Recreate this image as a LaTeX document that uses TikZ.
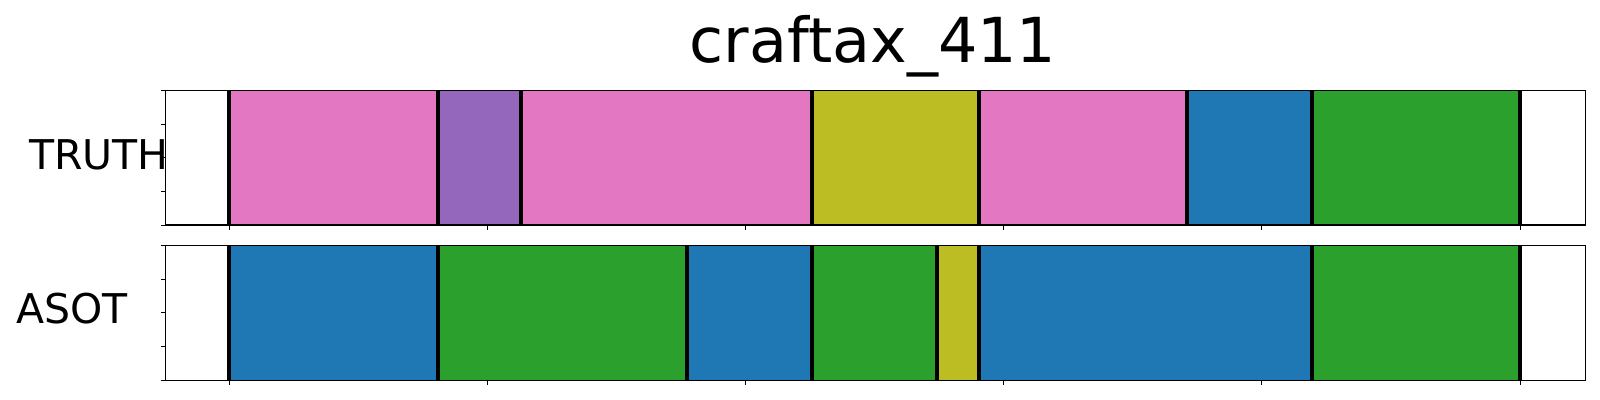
\documentclass[tikz,border=0pt]{standalone}
\usepackage{fontspec}
\setmainfont{DejaVu Sans}
\usepackage{tikz}

\definecolor{tabpink}{HTML}{E377C2}
\definecolor{tabpurple}{HTML}{9467BD}
\definecolor{tabolive}{HTML}{BCBD22}
\definecolor{tabblue}{HTML}{1F77B4}
\definecolor{tabgreen}{HTML}{2CA02C}

\begin{document}
\begin{tikzpicture}[x=0.75pt,y=0.75pt,yscale=-1,xscale=1]
\useasboundingbox (0,0) rectangle (1600,400);
\tikzset{segline/.style={line width=3pt,black}, frame/.style={line width=0.8pt,black}, tick/.style={line width=0.6pt,black}}

% Title
\draw (873,62) node [anchor=base][inner sep=0pt] (title) {\fontsize{46.5}{50}\selectfont craftax\_411};
% Text Node
\draw (29,169) node [anchor=base west][inner sep=0pt] (truthlbl) {\fontsize{30.75}{34}\selectfont TRUTH};
% Text Node
\draw (16,323) node [anchor=base west][inner sep=0pt] (asotlbl) {\fontsize{30.75}{34}\selectfont ASOT};

% TRUTH segments
\fill [tabpink] (229,90.3) rectangle (437.7,225);
\fill [tabpurple] (437.7,90.3) rectangle (520.7,225);
\fill [tabpink] (520.7,90.3) rectangle (812,225);
\fill [tabolive] (812,90.3) rectangle (979,225);
\fill [tabpink] (979,90.3) rectangle (1187,225);
\fill [tabblue] (1187,90.3) rectangle (1312,225);
\fill [tabgreen] (1312,90.3) rectangle (1520,225);

% ASOT segments
\fill [tabblue] (229,245.3) rectangle (437.7,380.3);
\fill [tabgreen] (437.7,245.3) rectangle (686.7,380.3);
\fill [tabblue] (686.7,245.3) rectangle (812,380.3);
\fill [tabgreen] (812,245.3) rectangle (937,380.3);
\fill [tabolive] (937,245.3) rectangle (979,380.3);
\fill [tabblue] (979,245.3) rectangle (1312,380.3);
\fill [tabgreen] (1312,245.3) rectangle (1520,380.3);

% Boundaries TRUTH
\draw [segline] (229,90.3) -- (229,225) ;
\draw [segline] (437.7,90.3) -- (437.7,225) ;
\draw [segline] (520.7,90.3) -- (520.7,225) ;
\draw [segline] (812,90.3) -- (812,225) ;
\draw [segline] (979,90.3) -- (979,225) ;
\draw [segline] (1187,90.3) -- (1187,225) ;
\draw [segline] (1312,90.3) -- (1312,225) ;
\draw [segline] (1520,90.3) -- (1520,225) ;

% Boundaries ASOT
\draw [segline] (229,245.3) -- (229,380.3) ;
\draw [segline] (437.7,245.3) -- (437.7,380.3) ;
\draw [segline] (686.7,245.3) -- (686.7,380.3) ;
\draw [segline] (812,245.3) -- (812,380.3) ;
\draw [segline] (937,245.3) -- (937,380.3) ;
\draw [segline] (979,245.3) -- (979,380.3) ;
\draw [segline] (1312,245.3) -- (1312,380.3) ;
\draw [segline] (1520,245.3) -- (1520,380.3) ;

% Frames
\draw [frame] (165.7,90.3) rectangle (1585.7,225) ;
\draw [frame] (165.7,245.3) rectangle (1585.7,380.3) ;

% Left ticks
\draw [tick] (160.8,90.3) -- (165.7,90.3) ;
\draw [tick] (160.8,124) -- (165.7,124) ;
\draw [tick] (160.8,157.7) -- (165.7,157.7) ;
\draw [tick] (160.8,191.3) -- (165.7,191.3) ;
\draw [tick] (160.8,225) -- (165.7,225) ;
\draw [tick] (160.8,245.3) -- (165.7,245.3) ;
\draw [tick] (160.8,279) -- (165.7,279) ;
\draw [tick] (160.8,312.8) -- (165.7,312.8) ;
\draw [tick] (160.8,346.5) -- (165.7,346.5) ;
\draw [tick] (160.8,380.3) -- (165.7,380.3) ;

% Bottom ticks
\draw [tick] (229,225) -- (229,229.9) ;
\draw [tick] (487.2,225) -- (487.2,229.9) ;
\draw [tick] (745.4,225) -- (745.4,229.9) ;
\draw [tick] (1003.6,225) -- (1003.6,229.9) ;
\draw [tick] (1261.8,225) -- (1261.8,229.9) ;
\draw [tick] (1520,225) -- (1520,229.9) ;
\draw [tick] (229,380.3) -- (229,385.2) ;
\draw [tick] (487.2,380.3) -- (487.2,385.2) ;
\draw [tick] (745.4,380.3) -- (745.4,385.2) ;
\draw [tick] (1003.6,380.3) -- (1003.6,385.2) ;
\draw [tick] (1261.8,380.3) -- (1261.8,385.2) ;
\draw [tick] (1520,380.3) -- (1520,385.2) ;

\end{tikzpicture}
\end{document}
